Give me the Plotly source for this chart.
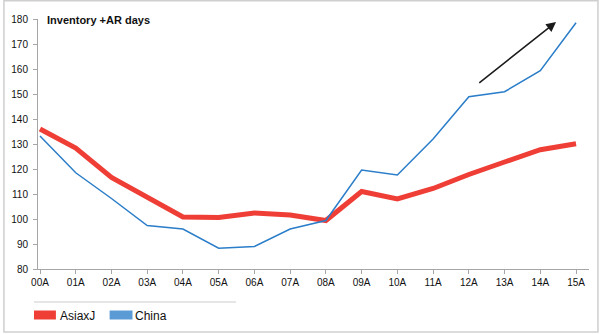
import plotly.graph_objects as go

# Fiscal years on the x axis
years = ["00A", "01A", "02A", "03A", "04A", "05A", "06A", "07A",
         "08A", "09A", "10A", "11A", "12A", "13A", "14A", "15A"]

# Inventory + accounts receivable days
asia_ex_japan = [136.0, 128.4, 116.6, 108.6, 100.8, 100.6, 102.4, 101.6,
                 99.4, 111.0, 108.0, 112.2, 117.8, 122.8, 127.7, 130.1]
china = [133.2, 118.5, 108.2, 97.4, 96.0, 88.3, 89.0, 96.0,
         99.4, 119.6, 117.6, 132.0, 148.9, 150.9, 159.3, 178.5]

y_ticks = [80, 90, 100, 110, 120, 130, 140, 150, 160, 170, 180]

RED = "#EF3E36"
BLUE_LINE = "#2A7DC9"
BLUE_KEY = "#5B9BD5"
FONT = "Liberation Sans, Arial, sans-serif"

x_idx = list(range(len(years)))

fig = go.Figure()
fig.add_trace(go.Scatter(x=x_idx, y=asia_ex_japan, mode="lines", name="AsiaxJ",
                         line=dict(color=RED, width=5), showlegend=False))
fig.add_trace(go.Scatter(x=x_idx, y=china, mode="lines", name="China",
                         line=dict(color=BLUE_LINE, width=1.5), showlegend=False))

# plot area in pixels: x 35..589, y 19..269
L, R, T, B = 35, 589, 19, 269
W, H = 600, 334


def px(x):
    return (x - L) / (R - L)


def py(y):
    return (B - y) / (B - T)


shapes = [
    # outer frame
    dict(type="rect", xref="paper", yref="paper",
         x0=px(0.75), x1=px(598), y0=py(0.75), y1=py(332),
         line=dict(color="#CFCFCF", width=1.5), fillcolor="rgba(0,0,0,0)", layer="below"),
    # rule above the key
    dict(type="line", xref="paper", yref="paper",
         x0=px(31), x1=px(234), y0=py(302), y1=py(302),
         line=dict(color="#CCCCCC", width=1)),
    # key swatches
    dict(type="rect", xref="paper", yref="paper",
         x0=px(31), x1=px(53), y0=py(310.5), y1=py(319.5),
         line=dict(width=0), fillcolor=RED),
    dict(type="rect", xref="paper", yref="paper",
         x0=px(107), x1=px(130), y0=py(310.5), y1=py(319.5),
         line=dict(width=0), fillcolor=BLUE_KEY),
]

annotations = [
    dict(text="<b>Inventory +AR days</b>", xref="paper", yref="paper",
         x=px(42), y=py(20), xanchor="left", yanchor="middle", showarrow=False,
         font=dict(family=FONT, size=11, color="#111111")),
    dict(text="AsiaxJ", xref="paper", yref="paper",
         x=px(55), y=py(315.5), xanchor="left", yanchor="middle", showarrow=False,
         font=dict(family=FONT, size=12, color="#111111")),
    dict(text="China", xref="paper", yref="paper",
         x=px(131), y=py(315.5), xanchor="left", yanchor="middle", showarrow=False,
         font=dict(family=FONT, size=12, color="#111111")),
    # trend arrow
    dict(x=14.44, y=178.8, ax=12.25, ay=154.0, xref="x", yref="y",
         axref="x", ayref="y", text="", showarrow=True,
         arrowhead=2, arrowsize=1.3, arrowwidth=1.5, arrowcolor="#1A1A1A"),
]

x0 = -0.056
x1 = x0 + (R - L) / 35.93

fig.update_layout(
    width=W, height=H,
    margin=dict(l=L, r=W - R, t=T, b=H - B),
    paper_bgcolor="white", plot_bgcolor="white",
    font=dict(family=FONT, size=10, color="#111111"),
    shapes=shapes, annotations=annotations,
    xaxis=dict(range=[x0, x1], tickmode="array", tickvals=x_idx, ticktext=years,
               showgrid=False, zeroline=False, showline=True, linecolor="#A6A6A6",
               linewidth=1, ticks="outside", ticklen=4, tickcolor="#A6A6A6",
               tickfont=dict(family=FONT, size=10, color="#111111")),
    yaxis=dict(range=[80, 180], tickmode="array", tickvals=y_ticks,
               showgrid=False, zeroline=False, showline=True, linecolor="#A6A6A6",
               linewidth=1, ticks="outside", ticklen=4, tickcolor="#A6A6A6",
               ticklabelstandoff=3,
               tickfont=dict(family=FONT, size=10, color="#111111")),
)

fig.write_html("out.html")
